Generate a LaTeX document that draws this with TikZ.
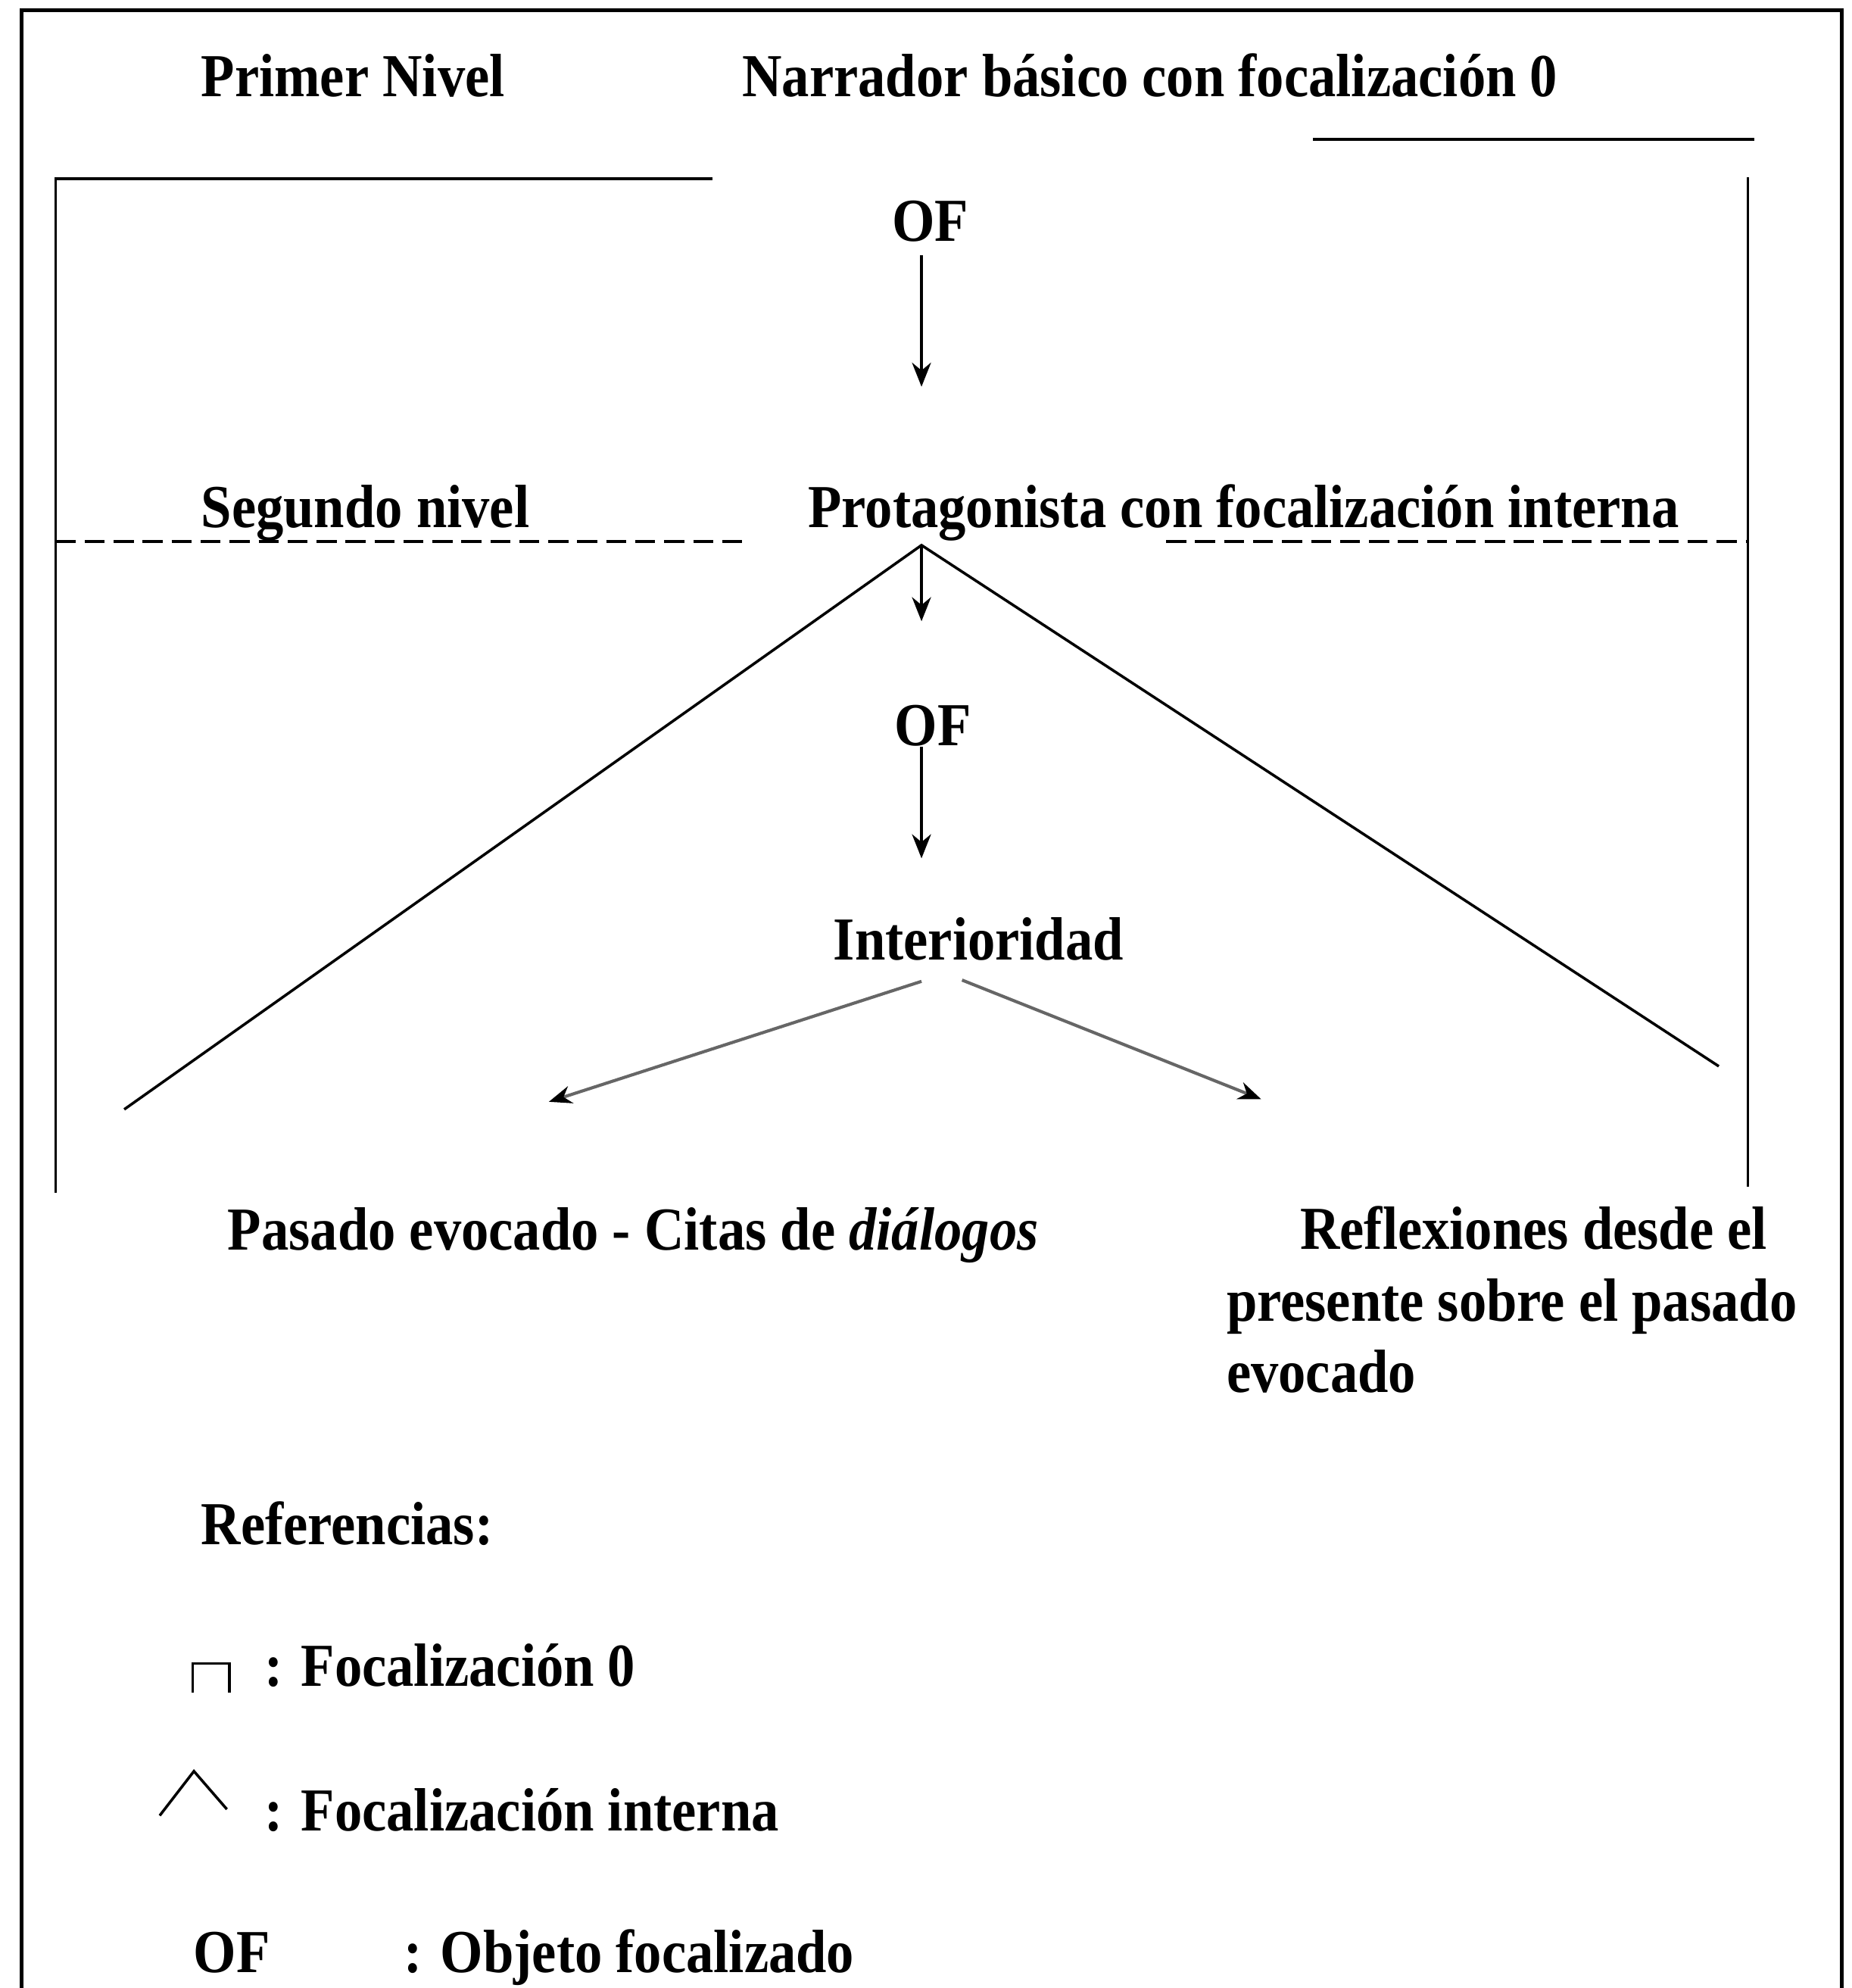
\documentclass[tikz,border=0pt]{standalone}
\usepackage{fontspec}
\setmainfont{Liberation Serif}[FakeStretch=0.9]
\usetikzlibrary{arrows.meta, positioning, calc}

\begin{document}
\begin{tikzpicture}[
    x=0.01cm, y=-0.01cm,
    txt/.style={inner sep=0pt, anchor=base west, font=\fontsize{13.7pt}{16pt}\selectfont\bfseries},
    outer/.style={line width=0.9pt},
    frame/.style={line width=0.6pt},
    dashline/.style={line width=0.6pt, dash pattern=on 4.5pt off 2pt},
    arrow/.style={-{Stealth[length=1.9mm, width=1.5mm]}, line width=0.6pt},
    grayarrow/.style={-{Stealth[length=1.8mm, width=1.4mm, color=black]}, line width=0.7pt, draw=black!60}
]
\useasboundingbox (0,0) rectangle (1461,1568);

% Outer frame
\draw[outer] (17,1568) -- (17,8) -- (1453,8) -- (1453,1568);

% Inner frame
\draw[frame] (44,941) -- (44,141) -- (562,141);
\draw[frame] (1036,110) -- (1384,110);
\draw[frame] (1379,140) -- (1379,936);

% Level separator
\draw[dashline] (44,427) -- (590,427);
\draw[dashline] (920,427) -- (1379,427);

% Levels
\node[txt] (nivel1) at (158,76) {Primer Nivel};
\node[txt] (narrador) at (585,76) {Narrador básico con focalización 0};
\node[txt, anchor=base] (of1) at (734,190) {OF};
\node[txt] (nivel2) at (158,416) {Segundo nivel};
\node[txt] (protag) at (637,416) {Protagonista con focalización interna};
\node[txt, anchor=base] (of2) at (736,588) {OF};
\node[txt, anchor=base] (inter) at (772,757) {Interioridad};

% Results
\node[txt] (pasado) at (179,986) {Pasado evocado - Citas de \textit{diálogos}};
\node[txt, align=left] (reflex) at (967,1098) {\hspace*{0.58cm}Reflexiones desde el\\presente sobre el pasado\\evocado};

% Internal focalization
\coordinate (apex) at (727,430);
\coordinate (leftfoot) at (98,875);
\coordinate (rightfoot) at (1356,841);
\draw[frame] (leftfoot) -- (apex) -- (rightfoot);

% Focalized objects
\coordinate (t1) at (727,305);
\coordinate (t2) at (727,490);
\coordinate (t3) at (727,677);
\draw[arrow, shorten <=0.1cm] (of1.south -| apex) -- (t1);
\draw[arrow] (apex) -- (t2);
\draw[arrow] (of2.south -| apex) -- (t3);

% Interiority branches
\coordinate (g1s) at (727,774);
\coordinate (g1e) at (433,869);
\coordinate (g2s) at (759,773);
\coordinate (g2e) at (995,867);
\draw[grayarrow] (g1s) -- (g1e);
\draw[grayarrow] (g2s) -- (g2e);

% References
\node[txt] (refs) at (158,1218) {Referencias:};
\draw[frame] (152,1335) -- (152,1312) -- (181,1312) -- (181,1335);
\node[txt] (foc0) at (208,1330) {: Focalización 0};
\draw[frame] (126,1432) -- (153,1397) -- (179,1427);
\node[txt] (focint) at (208,1444) {: Focalización interna};
\node[txt] (ofleg) at (152,1556) {OF};
\node[txt] (objeto) at (318,1556) {: Objeto focalizado};

\end{tikzpicture}
\end{document}
